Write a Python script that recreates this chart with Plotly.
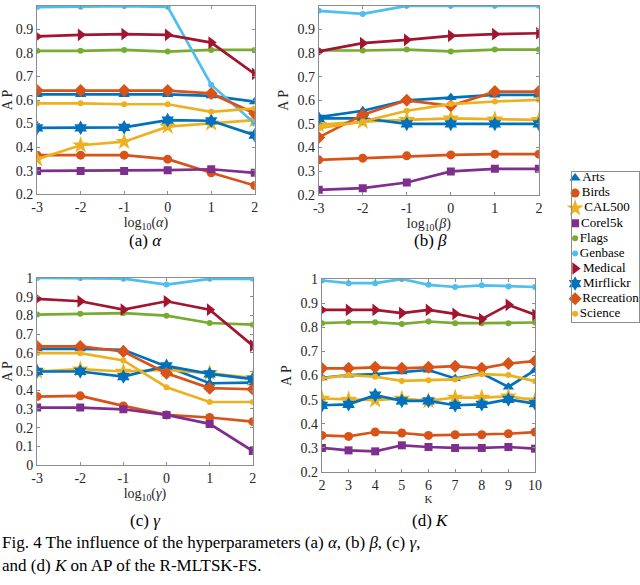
import plotly.graph_objects as go

names = ["Arts", "Birds", "CAL500", "Corel5k", "Flags", "Genbase",
         "Medical", "Mirflickr", "Recreation", "Science"]

log_steps = [-3, -2, -1, 0, 1, 2]
log_labels = ["-3", "-2", "-1", "0", "1", "2"]
k_values = [2, 3, 4, 5, 6, 7, 8, 9, 10]

# AP: alpha
ap_alpha = {
    "Arts": [0.624, 0.624, 0.624, 0.624, 0.618, 0.593],
    "Birds": [0.366, 0.366, 0.366, 0.349, 0.291, 0.237],
    "CAL500": [0.349, 0.408, 0.423, 0.487, 0.501, 0.515],
    "Corel5k": [0.299, 0.299, 0.299, 0.302, 0.306, 0.291],
    "Flags": [0.809, 0.809, 0.813, 0.806, 0.813, 0.813],
    "Genbase": [0.995, 0.996, 0.999, 0.996, 0.665, 0.500],
    "Medical": [0.870, 0.877, 0.880, 0.877, 0.844, 0.711],
    "Mirflickr": [0.482, 0.482, 0.484, 0.515, 0.512, 0.451],
    "Recreation": [0.640, 0.640, 0.640, 0.640, 0.628, 0.543],
    "Science": [0.586, 0.586, 0.582, 0.582, 0.550, 0.565],
}

# panel (b): beta
ap_beta = {
    "Arts": [0.529, 0.556, 0.600, 0.612, 0.623, 0.623],
    "Birds": [0.348, 0.355, 0.365, 0.369, 0.372, 0.372],
    "CAL500": [0.496, 0.510, 0.517, 0.524, 0.520, 0.517],
    "Corel5k": [0.221, 0.228, 0.252, 0.299, 0.310, 0.310],
    "Flags": [0.811, 0.811, 0.815, 0.807, 0.815, 0.815],
    "Genbase": [0.979, 0.966, 1.000, 1.000, 1.000, 1.000],
    "Medical": [0.807, 0.842, 0.856, 0.873, 0.880, 0.884],
    "Mirflickr": [0.524, 0.524, 0.500, 0.500, 0.500, 0.500],
    "Recreation": [0.443, 0.539, 0.600, 0.577, 0.637, 0.637],
    "Science": [0.482, 0.510, 0.556, 0.584, 0.595, 0.602],
}

# panel (c): gamma
ap_gamma = {
    "Arts": [0.621, 0.621, 0.616, 0.527, 0.437, 0.440],
    "Birds": [0.366, 0.370, 0.316, 0.268, 0.254, 0.232],
    "CAL500": [0.500, 0.512, 0.500, 0.509, 0.491, 0.464],
    "Corel5k": [0.307, 0.307, 0.298, 0.268, 0.220, 0.075],
    "Flags": [0.804, 0.809, 0.812, 0.798, 0.759, 0.750],
    "Genbase": [1.000, 1.000, 0.996, 0.964, 0.995, 0.995],
    "Medical": [0.888, 0.875, 0.830, 0.875, 0.830, 0.638],
    "Mirflickr": [0.500, 0.500, 0.473, 0.530, 0.487, 0.459],
    "Recreation": [0.634, 0.634, 0.607, 0.491, 0.411, 0.405],
    "Science": [0.598, 0.598, 0.559, 0.416, 0.337, 0.337],
}

# panel (d): K
ap_k = {
    "Arts": [0.591, 0.602, 0.606, 0.616, 0.623, 0.588, 0.609, 0.553, 0.623],
    "Birds": [0.352, 0.348, 0.366, 0.362, 0.352, 0.355, 0.355, 0.359, 0.366],
    "CAL500": [0.505, 0.501, 0.498, 0.505, 0.495, 0.509, 0.509, 0.514, 0.498],
    "Corel5k": [0.300, 0.290, 0.286, 0.311, 0.304, 0.300, 0.300, 0.304, 0.297],
    "Flags": [0.817, 0.821, 0.821, 0.814, 0.824, 0.817, 0.817, 0.817, 0.820],
    "Genbase": [0.994, 0.983, 0.983, 1.000, 0.976, 0.967, 0.974, 0.969, 0.967],
    "Medical": [0.872, 0.872, 0.872, 0.859, 0.872, 0.856, 0.834, 0.893, 0.852],
    "Mirflickr": [0.477, 0.481, 0.519, 0.495, 0.495, 0.477, 0.481, 0.501, 0.484],
    "Recreation": [0.630, 0.630, 0.634, 0.630, 0.634, 0.639, 0.630, 0.650, 0.660],
    "Science": [0.588, 0.602, 0.595, 0.578, 0.581, 0.584, 0.606, 0.602, 0.577],
}

# matlab default colour order, wraps after seven
colors = ["#0072BD", "#D95319", "#EDB120", "#7E2F8E", "#77AC30", "#4DBEEE",
          "#A2142F", "#0072BD", "#D95319", "#EDB120"]
symbols = ["triangle-up", "circle", "star", "square", "circle", "circle",
           "triangle-right", "hexagram", "diamond", "circle"]
sizes = [10, 9, 13, 8, 6, 6, 11, 11, 10, 6]

FONT = "Liberation Serif"
AXC = "#8c8c8c"
TXT = "#262626"

fig = go.Figure()

panels = [
    (log_steps, ap_alpha, "x", "y"),
    (log_steps, ap_beta, "x2", "y2"),
    (log_steps, ap_gamma, "x3", "y3"),
    (k_values, ap_k, "x4", "y4"),
]

for xs, data, xa, ya in panels:
    for i, name in enumerate(names):
        fig.add_trace(go.Scatter(
            x=xs, y=data[name], xaxis=xa, yaxis=ya,
            mode="lines+markers", name=name, showlegend=False,
            line=dict(color=colors[i], width=2.7),
            marker=dict(symbol=symbols[i], size=sizes[i], color=colors[i]),
        ))

# compact matlab style legend drawn on its own small axes, one row per dataset
for i, name in enumerate(names):
    fig.add_trace(go.Scatter(
        x=[0], y=[name], xaxis="x5", yaxis="y5",
        mode="markers+text", text=[name], textposition="middle right",
        textfont=dict(family=FONT, size=13, color="black"),
        marker=dict(symbol=symbols[i], size=sizes[i], color=colors[i]),
        showlegend=False, cliponaxis=False,
    ))


def xaxis(domain, anchor, rng, tickvals, ticktext, title, title_size=14):
    return dict(
        domain=domain, anchor=anchor, range=rng, tickvals=tickvals, ticktext=ticktext,
        showline=True, mirror="ticks", linecolor=AXC, linewidth=1, automargin=False,
        ticks="inside", ticklen=3, tickcolor=AXC, showgrid=False, zeroline=False,
        tickfont=dict(family=FONT, size=14, color=TXT),
        title=dict(text=title, font=dict(family=FONT, size=title_size, color=TXT), standoff=2),
    )


def yaxis(domain, anchor, rng):
    return dict(
        domain=domain, anchor=anchor, range=rng, dtick=0.1, tickformat="~g",
        showline=True, mirror="ticks", linecolor=AXC, linewidth=1, automargin=False,
        ticks="inside", ticklen=3, tickcolor=AXC, showgrid=False, zeroline=False,
        tickfont=dict(family=FONT, size=14, color=TXT),
        title=dict(text="A P", font=dict(family=FONT, size=14, color=TXT), standoff=5),
    )


fig.update_layout(
    width=640, height=585,
    margin=dict(l=0, r=0, t=0, b=0, autoexpand=False),
    paper_bgcolor="white", plot_bgcolor="white",
    font=dict(family=FONT, color="black"),
    showlegend=False,
    xaxis=xaxis([0.058, 0.398], "y", [-3, 2], log_steps, log_labels, "log<sub>10</sub>(<i>α</i>)"),
    yaxis=yaxis([0.668, 0.990], "x", [0.2, 1.0]),
    xaxis2=xaxis([0.498, 0.842], "y2", [-3, 2], log_steps, log_labels, "log<sub>10</sub>(<i>β</i>)"),
    yaxis2=yaxis([0.667, 0.990], "x2", [0.2, 1.0]),
    xaxis3=xaxis([0.058, 0.395], "y3", [-3, 2], log_steps, log_labels, "log<sub>10</sub>(<i>γ</i>)"),
    yaxis3=yaxis([0.205, 0.525], "x3", [0.0, 1.0]),
    xaxis4=xaxis([0.503, 0.836], "y4", [2, 10], k_values, [str(k) for k in k_values], "K", title_size=11),
    yaxis4=yaxis([0.193, 0.523], "x4", [0.2, 1.0]),
    # legend box: x in pixel-like units, rows as categories top to bottom
    xaxis5=dict(domain=[0.894, 0.998], anchor="y5", range=[-3, 65], visible=True,
                showline=True, mirror=True, linecolor=AXC, linewidth=1,
                showticklabels=False, ticks="", showgrid=False, zeroline=False, fixedrange=True),
    yaxis5=dict(domain=[0.450, 0.706], anchor="x5", type="category",
                categoryorder="array", categoryarray=names, range=[9.53, -0.4],
                showline=True, mirror=True, linecolor=AXC, linewidth=1,
                showticklabels=False, ticks="", showgrid=False, zeroline=False, fixedrange=True),
)

subtitles = [
    ("(a) <i>α</i>", 0.227, 240),
    ("(b) <i>β</i>", 0.672, 240),
    ("(c) <i>γ</i>", 0.227, 520),
    ("(d) <i>K</i>", 0.672, 520),
]
for text, xp, ypx in subtitles:
    fig.add_annotation(
        text=text, xref="paper", yref="paper", x=xp, y=1 - ypx / 585,
        xanchor="center", yanchor="middle", showarrow=False,
        font=dict(family=FONT, size=17, color="black"),
    )

caption = [
    ("Fig. 4 The influence of the hyperparameters (a) <i>α</i>, (b) <i>β</i>, (c) <i>γ</i>,", 542),
    ("and (d) <i>K</i> on AP of the R-MLTSK-FS.", 565),
]
for text, ypx in caption:
    fig.add_annotation(
        text=text, xref="paper", yref="paper", x=0.0, y=1 - ypx / 585,
        xanchor="left", yanchor="middle", showarrow=False,
        font=dict(family=FONT, size=17, color="black"),
    )

# drop the browser's default body margin so the 640x585 figure fills the window
fig.write_html("out.html", config={"displayModeBar": False},
               post_script="document.body.style.margin='0';")
